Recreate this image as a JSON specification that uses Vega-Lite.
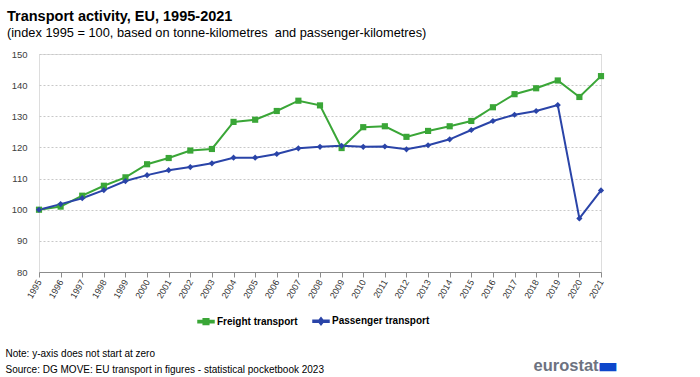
{
  "$schema": "https://vega.github.io/schema/vega-lite/v6.json",
  "width": 562,
  "height": 218,
  "autosize": {"type": "none"},
  "padding": {"left": 39, "top": 54, "right": 99, "bottom": 105},
  "background": "white",
  "title": {
    "text": "Transport activity, EU, 1995-2021",
    "subtitle": "(index 1995 = 100, based on tonne-kilometres\u00a0 and passenger-kilometres)",
    "anchor": "start",
    "frame": "group",
    "dx": -32,
    "offset": 8,
    "font": "Liberation Sans",
    "fontSize": 14.5,
    "fontWeight": "bold",
    "color": "#000000",
    "subtitleFont": "Liberation Sans",
    "subtitleFontSize": 12.8,
    "subtitleColor": "#000000",
    "subtitlePadding": 3
  },
  "data": {
    "values": [
      {"year": "1995", "series": "Freight transport", "value": 100.0},
      {"year": "1996", "series": "Freight transport", "value": 101.0},
      {"year": "1997", "series": "Freight transport", "value": 104.5},
      {"year": "1998", "series": "Freight transport", "value": 107.7},
      {"year": "1999", "series": "Freight transport", "value": 110.4},
      {"year": "2000", "series": "Freight transport", "value": 114.6},
      {"year": "2001", "series": "Freight transport", "value": 116.6},
      {"year": "2002", "series": "Freight transport", "value": 119.0},
      {"year": "2003", "series": "Freight transport", "value": 119.5},
      {"year": "2004", "series": "Freight transport", "value": 128.2},
      {"year": "2005", "series": "Freight transport", "value": 128.9},
      {"year": "2006", "series": "Freight transport", "value": 131.7},
      {"year": "2007", "series": "Freight transport", "value": 135.0},
      {"year": "2008", "series": "Freight transport", "value": 133.5},
      {"year": "2009", "series": "Freight transport", "value": 119.8},
      {"year": "2010", "series": "Freight transport", "value": 126.5},
      {"year": "2011", "series": "Freight transport", "value": 126.8},
      {"year": "2012", "series": "Freight transport", "value": 123.4},
      {"year": "2013", "series": "Freight transport", "value": 125.3},
      {"year": "2014", "series": "Freight transport", "value": 126.8},
      {"year": "2015", "series": "Freight transport", "value": 128.5},
      {"year": "2016", "series": "Freight transport", "value": 132.9},
      {"year": "2017", "series": "Freight transport", "value": 137.1},
      {"year": "2018", "series": "Freight transport", "value": 139.0},
      {"year": "2019", "series": "Freight transport", "value": 141.5},
      {"year": "2020", "series": "Freight transport", "value": 136.2},
      {"year": "2021", "series": "Freight transport", "value": 142.9},
      {"year": "1995", "series": "Passenger transport", "value": 100.0},
      {"year": "1996", "series": "Passenger transport", "value": 101.8},
      {"year": "1997", "series": "Passenger transport", "value": 103.7},
      {"year": "1998", "series": "Passenger transport", "value": 106.3},
      {"year": "1999", "series": "Passenger transport", "value": 109.2},
      {"year": "2000", "series": "Passenger transport", "value": 111.1},
      {"year": "2001", "series": "Passenger transport", "value": 112.7},
      {"year": "2002", "series": "Passenger transport", "value": 113.7},
      {"year": "2003", "series": "Passenger transport", "value": 114.9},
      {"year": "2004", "series": "Passenger transport", "value": 116.7},
      {"year": "2005", "series": "Passenger transport", "value": 116.7},
      {"year": "2006", "series": "Passenger transport", "value": 117.9},
      {"year": "2007", "series": "Passenger transport", "value": 119.7},
      {"year": "2008", "series": "Passenger transport", "value": 120.2},
      {"year": "2009", "series": "Passenger transport", "value": 120.5},
      {"year": "2010", "series": "Passenger transport", "value": 120.2},
      {"year": "2011", "series": "Passenger transport", "value": 120.3},
      {"year": "2012", "series": "Passenger transport", "value": 119.4},
      {"year": "2013", "series": "Passenger transport", "value": 120.7},
      {"year": "2014", "series": "Passenger transport", "value": 122.6},
      {"year": "2015", "series": "Passenger transport", "value": 125.6},
      {"year": "2016", "series": "Passenger transport", "value": 128.5},
      {"year": "2017", "series": "Passenger transport", "value": 130.5},
      {"year": "2018", "series": "Passenger transport", "value": 131.7},
      {"year": "2019", "series": "Passenger transport", "value": 133.6},
      {"year": "2020", "series": "Passenger transport", "value": 97.2},
      {"year": "2021", "series": "Passenger transport", "value": 106.2}
    ]
  },
  "encoding": {
    "x": {
      "field": "year",
      "type": "ordinal",
      "scale": {"type": "point", "padding": 0},
      "axis": {
        "title": ["Note: y-axis does not start at zero", "Source: DG MOVE: EU transport in figures - statistical pocketbook 2023"],
        "titleX": -34,
        "titleY": 84,
        "titleAlign": "left",
        "titleAnchor": "start",
        "titleBaseline": "alphabetic",
        "titleFont": "Liberation Sans",
        "titleFontSize": 10,
        "titleFontWeight": "normal",
        "titleColor": "#000000",
        "titleLineHeight": 16,
        "labelAngle": -60,
        "labelAlign": "right",
        "labelBaseline": "middle",
        "labelFont": "Liberation Sans",
        "labelFontSize": 9,
        "labelColor": "#333333",
        "labelPadding": 3,
        "domainColor": "#8c8c8c",
        "tickColor": "#8c8c8c",
        "tickSize": 5,
        "grid": false
      }
    },
    "y": {
      "field": "value",
      "type": "quantitative",
      "scale": {"domain": [80, 150], "nice": false, "zero": false},
      "axis": {
        "values": [80, 90, 100, 110, 120, 130, 140, 150],
        "title": "eurostat",
        "titleAngle": 0,
        "titleX": 494,
        "titleY": 311,
        "titleAlign": "left",
        "titleBaseline": "middle",
        "titleFont": "Liberation Sans",
        "titleFontSize": 16.5,
        "titleFontWeight": "bold",
        "titleColor": "#6d7280",
        "domain": false,
        "ticks": false,
        "labelFont": "Liberation Sans",
        "labelFontSize": 9.5,
        "labelColor": "#404040",
        "labelPadding": 12,
        "grid": true,
        "gridColor": "#c8c8c8",
        "gridDash": [2, 2],
        "gridWidth": 1
      }
    },
    "color": {
      "field": "series",
      "type": "nominal",
      "scale": {"domain": ["Freight transport", "Passenger transport"], "range": ["#3aa637", "#2a44a8"]},
      "legend": {
        "title": null,
        "orient": "none",
        "legendX": 158,
        "legendY": 258,
        "direction": "horizontal",
        "labelFont": "Liberation Sans",
        "labelFontSize": 10,
        "labelFontWeight": "bold",
        "labelColor": "#000000",
        "symbolSize": 256,
        "columnPadding": 12,
        "labelOffset": 2,
        "encode": {
          "symbols": {
            "update": {
              "shape": {"signal": "datum.value == 'Freight transport' ? 'M-1,-0.13H1V0.13H-1Z M-0.35,-0.35H0.35V0.35H-0.35Z' : 'M-1,-0.13H1V0.13H-1Z M0,-0.45L0.35,0L0,0.45L-0.35,0Z'"},
              "fill": {"scale": "color", "field": "value"},
              "stroke": {"value": "transparent"},
              "opacity": {"value": 1}
            }
          }
        }
      }
    }
  },
  "layer": [
    {
      "mark": {"type": "line", "strokeWidth": 2}
    },
    {
      "transform": [{"filter": "datum.series == 'Freight transport'"}],
      "mark": {"type": "point", "shape": "square", "filled": true, "opacity": 1, "size": 38},
      "encoding": {
        "y": {
          "field": "value",
          "type": "quantitative",
          "axis": {
            "orient": "right",
            "domain": false,
            "ticks": false,
            "labels": false,
            "grid": false,
            "title": "\u25ac",
            "titleAngle": 0,
            "titleX": -4,
            "titleY": 311,
            "titleAlign": "left",
            "titleBaseline": "middle",
            "titleFont": "DejaVu Sans",
            "titleFontSize": 22,
            "titleFontWeight": "normal",
            "titleColor": "#0e47cb"
          }
        }
      }
    },
    {
      "transform": [{"filter": "datum.series == 'Passenger transport'"}],
      "mark": {"type": "point", "shape": "diamond", "filled": true, "opacity": 1, "size": 38},
      "encoding": {
        "y": {"field": "value", "type": "quantitative", "axis": null}
      }
    }
  ],
  "resolve": {"axis": {"y": "independent"}}
}
